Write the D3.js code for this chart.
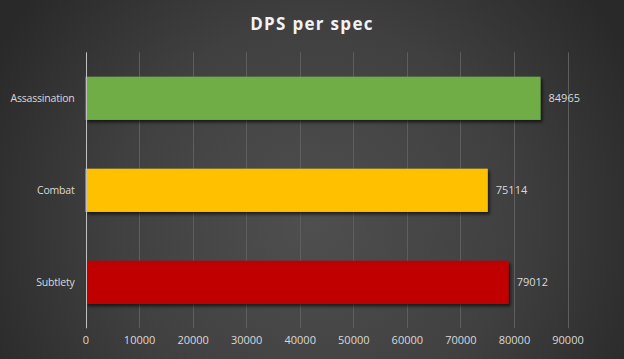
<!DOCTYPE html>
<html><head><meta charset="utf-8">
<script src="https://cdn.jsdelivr.net/npm/d3@7"></script>
<style>
html,body{margin:0;padding:0;background:#2b2b2b;}
svg{display:block;}
</style></head>
<body>
<script>
const categories = ["Assassination", "Combat", "Subtlety"];
const values = [84965, 75114, 79012];
const colors = ["#70ad47", "#ffc000", "#c00000"];
const tickValues = [0, 10000, 20000, 30000, 40000, 50000, 60000, 70000, 80000, 90000];
const title = "DPS per spec";

const W = 624, H = 359;
const m = {left: 85.5, right: 56.5, top: 52.3, bottom: 30.7};
const svg = d3.select("body").append("svg").attr("width", W).attr("height", H);
const defs = svg.append("defs");
const rg = defs.append("radialGradient").attr("id", "bg")
  .attr("gradientUnits", "userSpaceOnUse")
  .attr("cx", W/2).attr("cy", H*0.62).attr("r", 360);
rg.append("stop").attr("offset", "0%").attr("stop-color", "#4f4f4f");
rg.append("stop").attr("offset", "55%").attr("stop-color", "#404040");
rg.append("stop").attr("offset", "100%").attr("stop-color", "#292929");
const f = defs.append("filter").attr("id", "sh").attr("x", "-10%").attr("y", "-30%").attr("width", "130%").attr("height", "180%");
f.append("feDropShadow").attr("dx", 2).attr("dy", 2.5).attr("stdDeviation", 1.5)
  .attr("flood-color", "#000").attr("flood-opacity", 0.6);

svg.append("rect").attr("width", W).attr("height", H).attr("fill", "url(#bg)");

const x = d3.scaleLinear().domain([0, 90000]).range([m.left, W - m.right]);
const y = d3.scaleBand().domain(categories).range([m.top, H - m.bottom]).paddingInner(0.53).paddingOuter(0.265);

// gridlines
svg.append("g").selectAll("line").data(tickValues.slice(1)).join("line")
  .attr("x1", d => Math.round(x(d)) + 0.5).attr("x2", d => Math.round(x(d)) + 0.5)
  .attr("y1", m.top).attr("y2", H - m.bottom)
  .attr("stroke", "#5e5e5e").attr("stroke-width", 1);

// x axis labels
const ax = svg.append("g").attr("transform", `translate(0,${H - m.bottom})`)
  .call(d3.axisBottom(x).tickValues(tickValues).tickSize(0).tickPadding(8).tickFormat(d3.format("d")));
ax.select(".domain").remove();
ax.selectAll("text").attr("fill", "#d9d9d9").attr("font-size", "11px")
  .attr("font-family", "'Open Sans', sans-serif").attr("dy", "0.71em");

// bars
svg.append("g").selectAll("rect").data(values).join("rect")
  .attr("x", x(0)).attr("y", (d, i) => y(categories[i]))
  .attr("width", d => x(d) - x(0)).attr("height", y.bandwidth())
  .attr("fill", (d, i) => colors[i]).attr("filter", "url(#sh)");

// vertical axis line
svg.append("line").attr("x1", Math.round(x(0)) + 0.5).attr("x2", Math.round(x(0)) + 0.5)
  .attr("y1", m.top).attr("y2", H - m.bottom).attr("stroke", "#bfbfbf").attr("stroke-width", 1);

// category labels
const ay = svg.append("g").attr("transform", `translate(${m.left},0)`)
  .call(d3.axisLeft(y).tickSize(0).tickPadding(11));
ay.select(".domain").remove();
ay.selectAll("text").attr("fill", "#d9d9d9").attr("font-size", "10.5px")
  .attr("letter-spacing", "-0.2px")
  .attr("font-family", "'Open Sans', sans-serif");

// value labels
svg.append("g").selectAll("text").data(values).join("text")
  .attr("x", d => x(d) + 8).attr("y", (d, i) => y(categories[i]) + y.bandwidth() / 2)
  .attr("dy", "0.35em").attr("fill", "#d9d9d9").attr("font-size", "11px")
  .attr("font-family", "'Open Sans', sans-serif").text(d => d);

// title
svg.append("text").attr("x", W / 2).attr("y", 30).attr("text-anchor", "middle")
  .attr("fill", "#f2f2f2").attr("font-size", "17px").attr("font-weight", "bold")
  .attr("letter-spacing", "1.3px")
  .attr("font-family", "'Open Sans', sans-serif").text(title);
</script>
</body></html>
